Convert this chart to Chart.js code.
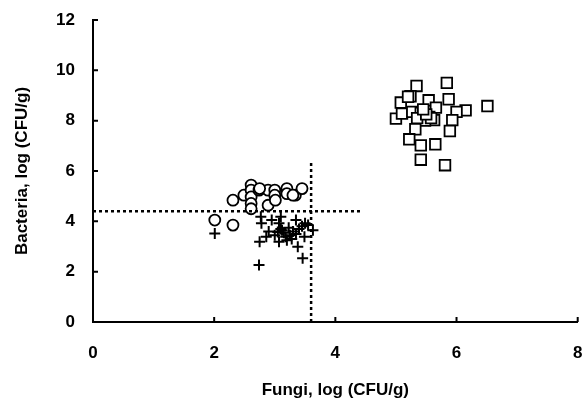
<!DOCTYPE html>
<html>
<head>
<meta charset="utf-8">
<script src="https://cdn.jsdelivr.net/npm/chart.js@4"></script>
<style>
  html, body { margin: 0; padding: 0; background: #fff; }
  #wrap { width: 587px; height: 405px; }
</style>
</head>
<body>
<div id="wrap"><canvas id="grafico" width="587" height="405"></canvas></div>
<script>
// Ticks
const xTicks = [0, 2, 4, 6, 8];
const yTicks = [0, 2, 4, 6, 8, 10, 12];

// Circles (o)
const circX = [2.01, 2.31, 2.31, 2.49, 2.61, 2.61, 2.61, 2.61, 2.61, 2.74, 2.89, 2.89, 3.0, 3.0, 3.01, 3.2, 3.2, 3.34, 3.45, 3.3, 2.75];
const circY = [4.05, 3.85, 4.84, 5.04, 5.44, 5.24, 4.97, 4.71, 4.5, 5.24, 5.24, 4.64, 5.24, 5.04, 4.84, 5.3, 5.1, 5.04, 5.3, 5.04, 5.3];

// Crosses (+)
const crossX = [2.01, 2.74, 2.75, 2.77, 2.78, 2.86, 2.95, 3.05, 3.07, 3.07, 3.1, 3.18, 3.23, 3.35, 3.38, 3.46, 3.49, 3.5, 3.63, 3.4, 3.3, 3.25, 3.15, 3.1, 3.0, 3.2, 3.28, 3.12, 3.35, 3.45, 3.55, 2.9];
const crossY = [3.52, 2.26, 3.19, 4.18, 3.92, 3.39, 4.05, 3.58, 3.19, 3.92, 4.18, 3.39, 3.75, 4.05, 2.99, 2.53, 3.39, 3.92, 3.65, 3.7, 3.6, 3.45, 3.55, 3.7, 3.45, 3.25, 3.3, 3.65, 3.5, 3.8, 3.85, 3.6];

// Squares
const sqX = [5.34, 5.84, 5.24, 5.08, 5.54, 5.87, 6.51, 5.66, 6.15, 6.0, 5.0, 5.1, 5.27, 5.41, 5.55, 5.63, 5.48, 5.35, 5.58, 5.93, 5.89, 5.32, 5.22, 5.41, 5.65, 5.41, 5.81, 5.5, 5.45, 5.2];
const sqY = [9.38, 9.5, 8.97, 8.72, 8.81, 8.85, 8.58, 8.52, 8.41, 8.35, 8.08, 8.28, 8.35, 8.31, 8.15, 8.02, 8.0, 8.1, 8.1, 8.02, 7.59, 7.66, 7.26, 7.02, 7.06, 6.45, 6.23, 8.25, 8.45, 8.95];

// Dotted threshold lines
const hLineX = [0, 4.45];
const hLineY = [4.4, 4.4];
const vLineX = [3.6, 3.6];
const vLineY = [0, 6.4];

function puntos(xs, ys) {
    return xs.map((x, i) => ({ x: x, y: ys[i] }));
}

// Short inward tick marks drawn on the axes
const ticksInternos = {
    id: 'ticksInternos',
    afterDraw(chart) {
        const ctx = chart.ctx;
        const sx = chart.scales.x;
        const sy = chart.scales.y;
        ctx.save();
        ctx.strokeStyle = '#000';
        ctx.lineWidth = 2;
        ctx.beginPath();
        xTicks.forEach(v => {
            const px = sx.getPixelForValue(v);
            ctx.moveTo(px, sy.bottom);
            ctx.lineTo(px, sy.bottom - 5);
        });
        yTicks.forEach(v => {
            const py = sy.getPixelForValue(v);
            ctx.moveTo(sx.left, py);
            ctx.lineTo(sx.left + 5, py);
        });
        ctx.stroke();
        ctx.restore();
    }
};

const fuente = { family: 'Liberation Sans, Arial, sans-serif', size: 17, weight: 'bold' };

new Chart(document.getElementById('grafico'), {
    type: 'scatter',
    data: {
        datasets: [
            {
                label: 'h',
                type: 'line',
                data: puntos(hLineX, hLineY),
                borderColor: '#000',
                borderWidth: 2.5,
                borderDash: [3, 3],
                pointRadius: 0,
                fill: false
            },
            {
                label: 'v',
                type: 'line',
                data: puntos(vLineX, vLineY),
                borderColor: '#000',
                borderWidth: 2.5,
                borderDash: [3, 3],
                pointRadius: 0,
                fill: false
            },
            {
                label: 'circ',
                data: puntos(circX, circY),
                pointStyle: 'circle',
                pointRadius: 5.5,
                borderColor: '#000',
                backgroundColor: '#fff',
                borderWidth: 1.8
            },
            {
                label: 'cross',
                data: puntos(crossX, crossY),
                pointStyle: 'cross',
                pointRadius: 5.5,
                borderColor: '#000',
                borderWidth: 2
            },
            {
                label: 'sq',
                data: puntos(sqX, sqY),
                pointStyle: 'rect',
                pointRadius: 7.5,
                borderColor: '#000',
                backgroundColor: '#fff',
                borderWidth: 1.8
            }
        ]
    },
    options: {
        responsive: false,
        animation: false,
        layout: { padding: { left: 0, right: 8, top: 20, bottom: 0 } },
        plugins: {
            legend: { display: false },
            tooltip: { enabled: false }
        },
        scales: {
            x: {
                type: 'linear',
                min: 0,
                max: 8,
                afterBuildTicks: s => { s.ticks = xTicks.map(v => ({ value: v })); },
                afterFit: s => { s.height = 83; s.paddingLeft = 0; s.paddingRight = 0; },
                grid: { display: false },
                border: { display: true, color: '#000', width: 2 },
                ticks: { color: '#000', font: fuente, padding: 13 },
                title: { display: true, text: 'Fungi, log (CFU/g)', color: '#000', font: fuente, padding: { top: 4, bottom: 4 } }
            },
            y: {
                type: 'linear',
                min: 0,
                max: 12,
                afterBuildTicks: s => { s.ticks = yTicks.map(v => ({ value: v })); },
                afterFit: s => { s.width = 93; s.paddingTop = 0; s.paddingBottom = 0; },
                grid: { display: false },
                border: { display: true, color: '#000', width: 2 },
                ticks: { color: '#000', font: fuente, padding: 10 },
                title: { display: true, text: 'Bacteria, log (CFU/g)', color: '#000', font: fuente, padding: { top: 12, bottom: 4 } }
            }
        }
    },
    plugins: [ticksInternos]
});
</script>
</body>
</html>
